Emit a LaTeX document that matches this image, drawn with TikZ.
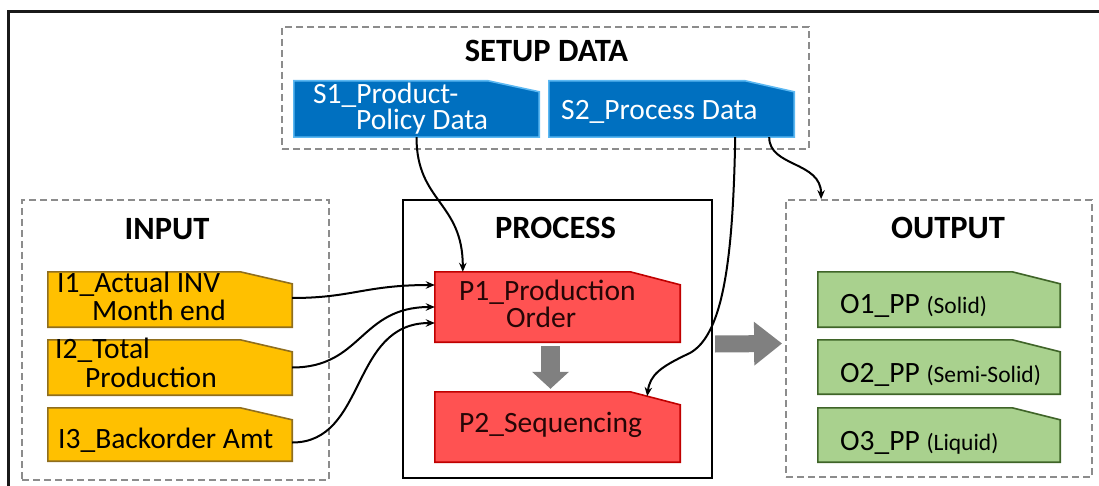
\documentclass[tikz,border=0pt]{standalone}
\usepackage{fontspec}
\setmainfont{Carlito}
\usetikzlibrary{arrows.meta,calc}

\definecolor{setupfill}{HTML}{0070C0}
\definecolor{setupline}{HTML}{5CB8F2}
\definecolor{inputfill}{HTML}{FFC000}
\definecolor{inputline}{HTML}{8F6E1E}
\definecolor{procfill}{HTML}{FF5252}
\definecolor{procline}{HTML}{C00000}
\definecolor{proctext}{HTML}{260606}
\definecolor{outfill}{HTML}{A9D18E}
\definecolor{outline}{HTML}{3F6428}
\definecolor{groupdash}{HTML}{8C8C8C}
\definecolor{flowgray}{HTML}{808080}

% data box with a clipped top-right corner: node name, style, cut width, cut drop
\newcommand{\cutcornerbox}[4]{%
  \draw[#2] (#1.south west) -- (#1.north west) -- ([xshift=-#3pt]#1.north east)
    -- ([yshift=-#4pt]#1.north east) -- (#1.south east) -- cycle;}

\tikzset{
  group/.style={rectangle, inner sep=0pt, draw=groupdash, line width=1.8pt,
    dash pattern=on 7pt off 4pt},
  procgroup/.style={rectangle, inner sep=0pt, draw=black, line width=2.2pt},
  title/.style={inner sep=0pt, anchor=base, font=\fontsize{32.5}{32.5}\selectfont\bfseries},
  tag/.style={rectangle, inner sep=0pt, draw=none},
  boxtext/.style={inner sep=0pt, anchor=base west, font=\fontsize{29.5}{29.5}\selectfont},
  setupbox/.style={fill=setupfill, draw=setupline, line width=1.6pt},
  inputbox/.style={fill=inputfill, draw=inputline, line width=1.6pt},
  procbox/.style={fill=procfill, draw=procline, line width=1.6pt},
  outbox/.style={fill=outfill, draw=outline, line width=1.6pt},
  flow/.style={line width=2pt, -{Stealth[length=9pt,width=7.5pt]}},
}
\newcommand{\smalltxt}[1]{{\fontsize{23.5}{23.5}\selectfont #1}}

\begin{document}
\begin{tikzpicture}[x=1pt, y=-1pt]
\useasboundingbox (0,0) rectangle (1099,486);

% frame edges
\draw[line width=3pt, black!90] (8.3,486) -- (8.3,12) -- (1099,12);

% groups
\node[group, minimum width=527, minimum height=122] (setup) at (545.5,88) {};
\node[group, minimum width=307, minimum height=280] (input) at (175.5,340) {};
\node[procgroup, minimum width=309, minimum height=278] (process) at (557.5,339) {};
\node[group, minimum width=306, minimum height=277] (output) at (939,338.5) {};

\node[title] (setupT) at (546.5,62) {SETUP DATA};
\node[title] (inputT) at (167,240) {INPUT};
\node[title] (processT) at (555.5,238) {PROCESS};
\node[title] (outputT) at (948,238) {OUTPUT};

% setup data
\node[tag, minimum width=245, minimum height=56] (S1) at (416.5,109) {};
\cutcornerbox{S1}{setupbox}{51}{11}
\node[boxtext, text=white] (S1a) at (313,104) {S1\_Product-};
\node[boxtext, text=white] (S1b) at (356,130) {Policy Data};
\node[tag, minimum width=245, minimum height=56] (S2) at (671.5,109) {};
\cutcornerbox{S2}{setupbox}{49}{11}
\node[boxtext, text=white] (S2a) at (561,120) {S2\_Process Data};

% inputs
\node[tag, minimum width=244, minimum height=55] (I1) at (170,299.5) {};
\cutcornerbox{I1}{inputbox}{52}{12}
\node[boxtext] (I1a) at (57,292) {I1\_Actual INV};
\node[boxtext] (I1b) at (92,320) {Month end};
\node[tag, minimum width=244, minimum height=55] (I2) at (170,367.5) {};
\cutcornerbox{I2}{inputbox}{52}{12}
\node[boxtext] (I2a) at (55,358) {I2\_Total};
\node[boxtext] (I2b) at (85,387) {Production};
\node[tag, minimum width=244, minimum height=53] (I3) at (170,434.5) {};
\cutcornerbox{I3}{inputbox}{52}{12}
\node[boxtext] (I3a) at (58,448) {I3\_Backorder Amt};

% process
\node[tag, minimum width=245, minimum height=70] (P1) at (557.5,307) {};
\cutcornerbox{P1}{procbox}{50}{13}
\node[boxtext, text=proctext] (P1a) at (459,300) {P1\_Production};
\node[boxtext, text=proctext] (P1b) at (506,327) {Order};
\node[tag, minimum width=245, minimum height=70] (P2) at (557.5,427) {};
\cutcornerbox{P2}{procbox}{50}{13}
\node[boxtext, text=proctext] (P2a) at (459,432) {P2\_Sequencing};

% outputs
\node[tag, minimum width=242, minimum height=55] (O1) at (939,299.5) {};
\cutcornerbox{O1}{outbox}{48}{12}
\node[boxtext] (O1a) at (840,313) {O1\_PP \smalltxt{(Solid)}};
\node[tag, minimum width=242, minimum height=54] (O2) at (939,367) {};
\cutcornerbox{O2}{outbox}{48}{12}
\node[boxtext] (O2a) at (840,382) {O2\_PP \smalltxt{(Semi-Solid)}};
\node[tag, minimum width=242, minimum height=54] (O3) at (939,435) {};
\cutcornerbox{O3}{outbox}{48}{12}
\node[boxtext] (O3a) at (840,450) {O3\_PP \smalltxt{(Liquid)}};

% block arrows
\draw[flowgray, line width=19pt, -{Triangle[length=17pt,width=36pt]}]
  ([xshift=-7pt,yshift=-4pt]P1.south) -- ([xshift=-7pt,yshift=3pt]P2.north);
\draw[flowgray, line width=17pt, -{Triangle[length=28pt,width=42pt]}]
  ([xshift=2pt,yshift=-5pt]process.east) -- ([xshift=-3pt,yshift=-5pt]output.west);

% data flows
\draw[flow] (S1.south) .. controls +(0,65) and +(0,-70) .. ([xshift=28pt]P1.north west);
\draw[flow] ([xshift=-59pt]S2.south east) .. controls (733,265) and (722,335) .. (690,353)
  .. controls (660,367) and (650,375) .. ($(P2.north east)+(-33,4.4)$);
\draw[flow] ([xshift=-25pt]S2.south east) .. controls +(0,30) and +(0,-38) .. ([xshift=36pt]output.north west);

\draw[flow] ([yshift=1.5pt]I1.east) .. controls +(60,0) and +(-70,0) .. ([yshift=22pt]P1.west);
\draw[flow] (I2.east) .. controls +(70,0) and +(-75,0) .. (P1.west);
\draw[flow] ([yshift=-8pt]I3.east) .. controls +(75,0) and +(-85,0) .. ([yshift=-16pt]P1.west);
\end{tikzpicture}
\end{document}
